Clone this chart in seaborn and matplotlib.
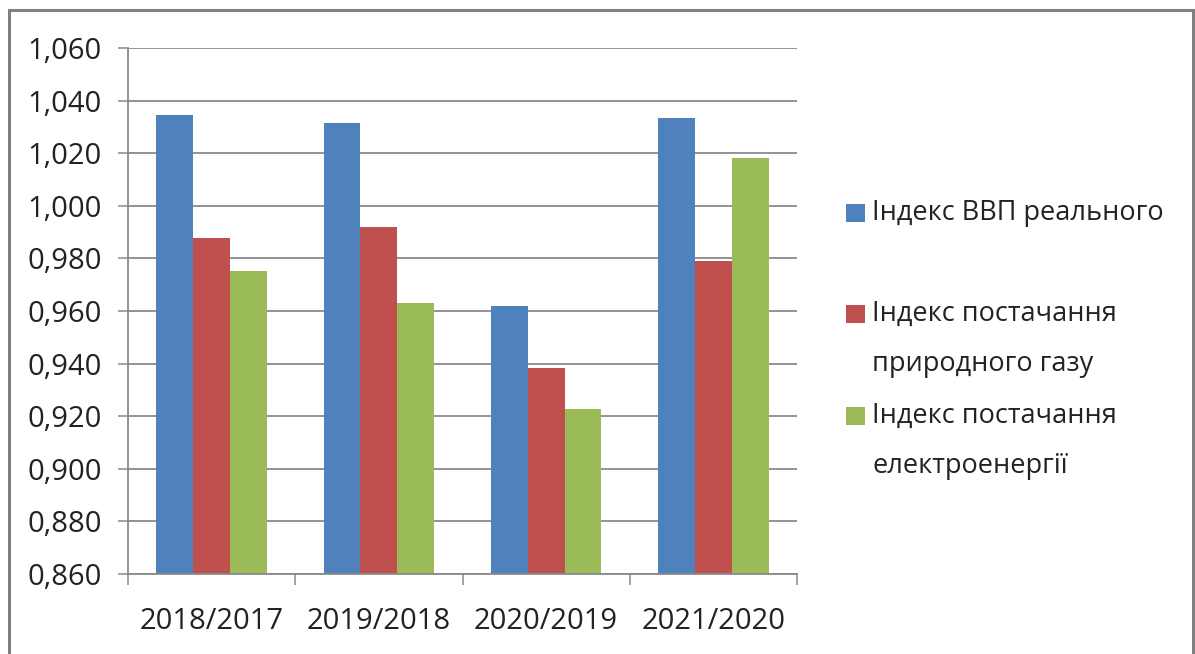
import matplotlib
matplotlib.use("Agg")
import matplotlib.pyplot as plt
import matplotlib.ticker as mticker
from matplotlib.patches import Rectangle
import numpy as np
import pandas as pd
import seaborn as sns

# Periods (year-over-year comparisons)
periods = ["2018/2017", "2019/2018", "2020/2019", "2021/2020"]

# Series names as shown in the legend
series_names = [
    "Індекс ВВП реального",
    "Індекс постачання\nприродного газу",
    "Індекс постачання\nелектроенергії",
]

# Index values per period
gdp_index = [1.0345, 1.0313, 0.9620, 1.0332]
gas_index = [0.9878, 0.9921, 0.9383, 0.9790]
power_index = [0.9752, 0.9629, 0.9226, 1.0183]

# Axis range and tick labels
y_ticks = [0.86, 0.88, 0.90, 0.92, 0.94, 0.96, 0.98, 1.00, 1.02, 1.04, 1.06]

colors = ["#4F81BD", "#C0504D", "#9BBB59"]

df = pd.DataFrame({
    "period": periods * 3,
    "value": gdp_index + gas_index + power_index,
    "series": [series_names[0]] * 4 + [series_names[1]] * 4 + [series_names[2]] * 4,
})

sns.set_theme(style="white")
plt.rcParams["font.family"] = ["Open Sans", "DejaVu Sans"]

W, H = 1195, 654
fig = plt.figure(figsize=(W / 100, H / 100), dpi=100)
ax = fig.add_axes([128 / W, 1 - 574 / H, (797 - 128) / W, (574 - 48) / H])

sns.barplot(
    data=df, x="period", y="value", hue="series", order=periods,
    hue_order=series_names, palette=colors, saturation=1,
    width=0.66, gap=0, edgecolor="none", linewidth=0, ax=ax, legend=False,
)

grid_col = "#8a8a8a"
text_col = "#222222"

ax.set_ylim(y_ticks[0], y_ticks[-1])
ax.set_xlim(-0.5, len(periods) - 0.5)
ax.set_yticks(y_ticks)
ax.yaxis.set_major_formatter(
    mticker.FuncFormatter(lambda v, _: f"{v:.3f}".replace(".", ","))
)
ax.set_axisbelow(True)
ax.yaxis.grid(True, color=grid_col, linewidth=1.3)
ax.xaxis.grid(False)
ax.set_xlabel("")
ax.set_ylabel("")

for s in ["top", "right"]:
    ax.spines[s].set_visible(False)
for s in ["left", "bottom"]:
    ax.spines[s].set_color(grid_col)
    ax.spines[s].set_linewidth(1.3)

ax.tick_params(axis="y", which="major", left=True, length=7, width=1.1,
               color=grid_col, pad=12, labelsize=21, labelcolor=text_col)
ax.tick_params(axis="x", which="major", bottom=False, length=0, pad=24,
               labelsize=21, labelcolor=text_col)
# Tick marks on category boundaries
ax.set_xticks(np.arange(-0.5, len(periods)), minor=True)
ax.tick_params(axis="x", which="minor", bottom=True, length=8, width=1.1,
               color=grid_col)

# Legend: colour squares with labels to the right of the plot
legend_rows = [(213, [series_names[0]]),
               (314, series_names[1].split("\n")),
               (416, series_names[2].split("\n"))]
for (y0, lines), c in zip(legend_rows, colors):
    fig.patches.append(Rectangle((846 / W, 1 - (y0 + 9) / H), 19 / W, 18 / H,
                                 transform=fig.transFigure, facecolor=c,
                                 edgecolor="none"))
    for k, line in enumerate(lines):
        fig.text(872 / W, 1 - (y0 + k * 50) / H, line, fontsize=19.5,
                 color=text_col, va="center", ha="left")

# Outer chart frame
fig.patches.append(Rectangle((9 / W, -0.05), (1193 - 9) / W, 1.05 - 9.5 / H,
                             transform=fig.transFigure, facecolor="none",
                             edgecolor="#808080", linewidth=2.2))

fig.savefig("out.png", dpi=100)
